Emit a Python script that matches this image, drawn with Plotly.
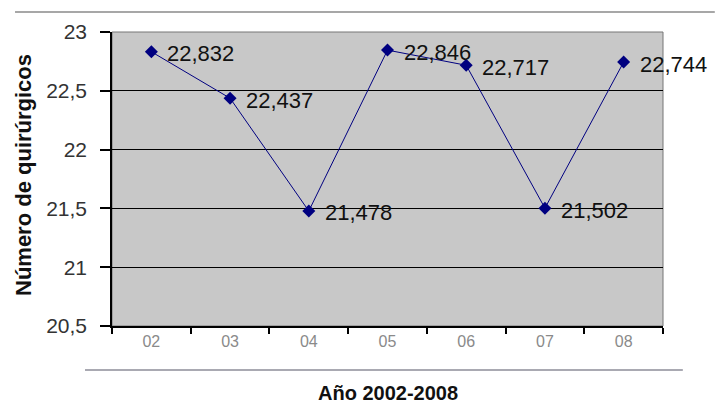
import plotly.graph_objects as go

# Surgical counts per year (2002-2008)
years = ["02", "03", "04", "05", "06", "07", "08"]
values = [22.832, 22.437, 21.478, 22.846, 22.717, 21.502, 22.744]
y_ticks = [20.5, 21, 21.5, 22, 22.5, 23]

FONT = "Arial, Liberation Sans"

fig = go.Figure()
fig.add_trace(go.Scatter(
    x=years, y=values,
    mode="lines+markers",
    line=dict(color="#000080", width=1),
    marker=dict(symbol="diamond", size=10, color="#000080"),
    cliponaxis=False,
    showlegend=False,
))

# value labels to the right of each point, decimal comma
# (category axis: annotation x is the category index)
labels = [
    dict(x=i, y=v, xref="x", yref="y",
         text=f"{v:.3f}".replace(".", ","),
         showarrow=False, xanchor="left", yanchor="middle",
         xshift=14, yshift=-2,
         font=dict(family=FONT, size=22, color="#111111"))
    for i, v in enumerate(values)
]

fig.update_layout(
    width=717, height=408,
    margin=dict(l=112, r=54, t=32, b=82),
    paper_bgcolor="white",
    plot_bgcolor="#c8c8c8",
    separators=",.",
    font=dict(family=FONT),
    xaxis=dict(
        type="category",
        tickson="boundaries",
        ticks="outside", ticklen=6, tickcolor="black", tickwidth=1.5,
        showline=True, linecolor="black", linewidth=1.5,
        showgrid=False,
        tickfont=dict(size=16, color="#8a8a8a"),
        range=[-0.5, 6.5],
    ),
    yaxis=dict(
        range=[20.5, 23],
        tickvals=y_ticks,
        ticks="outside", ticklen=10, tickcolor="black", tickwidth=1.5,
        ticklabelstandoff=9,
        showline=True, linecolor="black", linewidth=1.5,
        showgrid=True, gridcolor="black", gridwidth=1.4,
        zeroline=False,
        tickfont=dict(size=21, color="#333333"),
    ),
    shapes=[
        dict(type="line", xref="paper", yref="paper", x0=-0.176, x1=1.094,
             y0=1.068, y1=1.068, line=dict(color="#8a8a8a", width=1.5)),
        dict(type="line", xref="paper", yref="paper", x0=-0.049, x1=1.036,
             y0=-0.1497, y1=-0.1497, line=dict(color="#555566", width=1.2)),
        dict(type="rect", xref="paper", yref="paper", x0=0, x1=1, y0=0, y1=1,
             line=dict(color="#777777", width=1), layer="below"),
    ],
    annotations=labels + [
        dict(text="<b>Año 2002-2008</b>", xref="paper", yref="paper",
             x=(388 - 112) / 551, y=(326 - 393) / 294, showarrow=False,
             xanchor="center", yanchor="middle",
             font=dict(family=FONT, size=20, color="#111111")),
        dict(text="<b>Número de quirúrgicos</b>", xref="paper", yref="paper",
             x=(23 - 112) / 551, y=(326 - 175) / 294, showarrow=False,
             textangle=-90, xanchor="center", yanchor="middle",
             font=dict(family=FONT, size=22, color="#111111")),
    ],
)

fig.write_html("out.html")
